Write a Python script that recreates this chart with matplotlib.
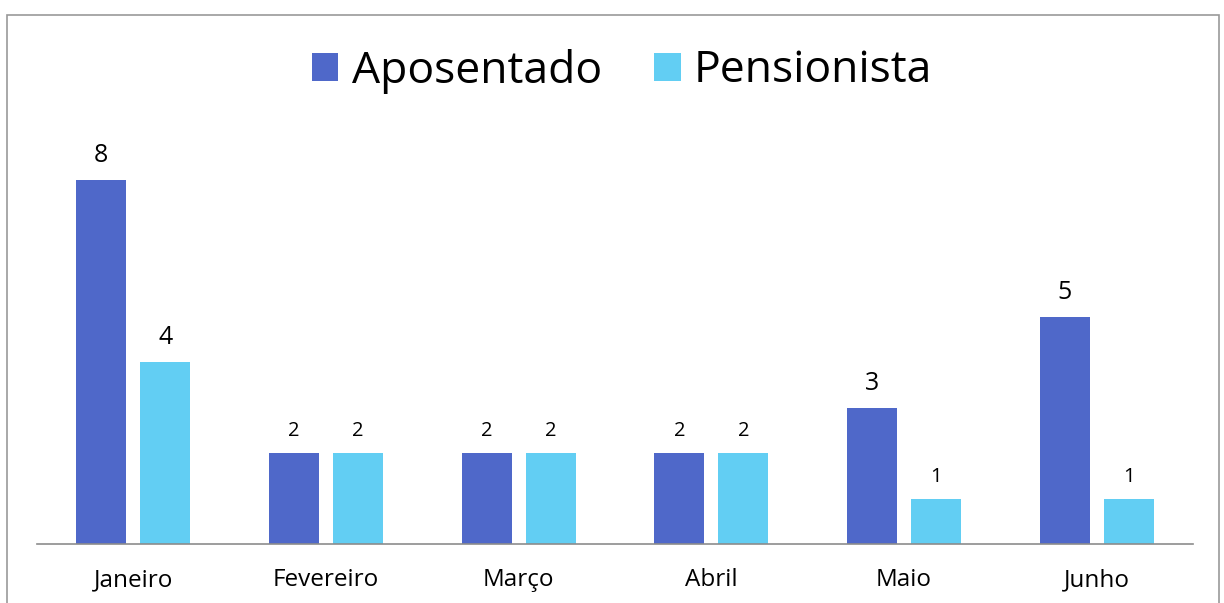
import numpy as np
import matplotlib.pyplot as plt
from matplotlib.patches import Rectangle

plt.rcParams['font.family'] = ['Open Sans', 'DejaVu Sans']

meses = ['Janeiro', 'Fevereiro', 'Março', 'Abril', 'Maio', 'Junho']
aposentado = [8, 2, 2, 2, 3, 5]
pensionista = [4, 2, 2, 2, 1, 1]

cor_apos = '#4F68C9'
cor_pens = '#62CEF3'

fig = plt.figure(figsize=(12.24, 6.03), dpi=100)
ax = fig.add_axes([37 / 1224, 59 / 603, 1156 / 1224, 409.5 / 603])

x = np.arange(len(meses))
w = 0.26
off = 0.166
b1 = ax.bar(x - off, aposentado, w, color=cor_apos, label='Aposentado')
b2 = ax.bar(x + off, pensionista, w, color=cor_pens, label='Pensionista')


def rotular(barras, valores):
    for b, v in zip(barras, valores):
        tam = 18 if v >= 3 else 14.5
        ax.annotate(str(v), (b.get_x() + b.get_width() / 2, v),
                    xytext=(0, 8.5), textcoords='offset points',
                    ha='center', va='bottom', fontsize=tam)


rotular(b1, aposentado)
rotular(b2, pensionista)

ax.set_xlim(-0.5, len(meses) - 0.5)
ax.set_ylim(0, 9)
ax.set_xticks(x)
ax.set_xticklabels(meses, fontsize=17.5)
ax.tick_params(axis='x', length=0, pad=17.5)
ax.set_yticks([])
for s in ['top', 'right', 'left']:
    ax.spines[s].set_visible(False)
ax.spines['bottom'].set_color('#8c8c8c')
ax.spines['bottom'].set_linewidth(1.2)

fig.legend(loc='center', bbox_to_anchor=(622 / 1224, 1 - 71 / 603),
           ncol=2, frameon=False, fontsize=32, handlelength=0.6,
           handleheight=0.6, handletextpad=0.3, columnspacing=1.17)

borda = Rectangle((7 / 1224, -0.01), 1212 / 1224, 1 - 15 / 603 + 0.01,
                  transform=fig.transFigure, fill=False,
                  edgecolor='#999999', linewidth=1.2)
fig.patches.append(borda)

fig.savefig('out.png', dpi=100)
